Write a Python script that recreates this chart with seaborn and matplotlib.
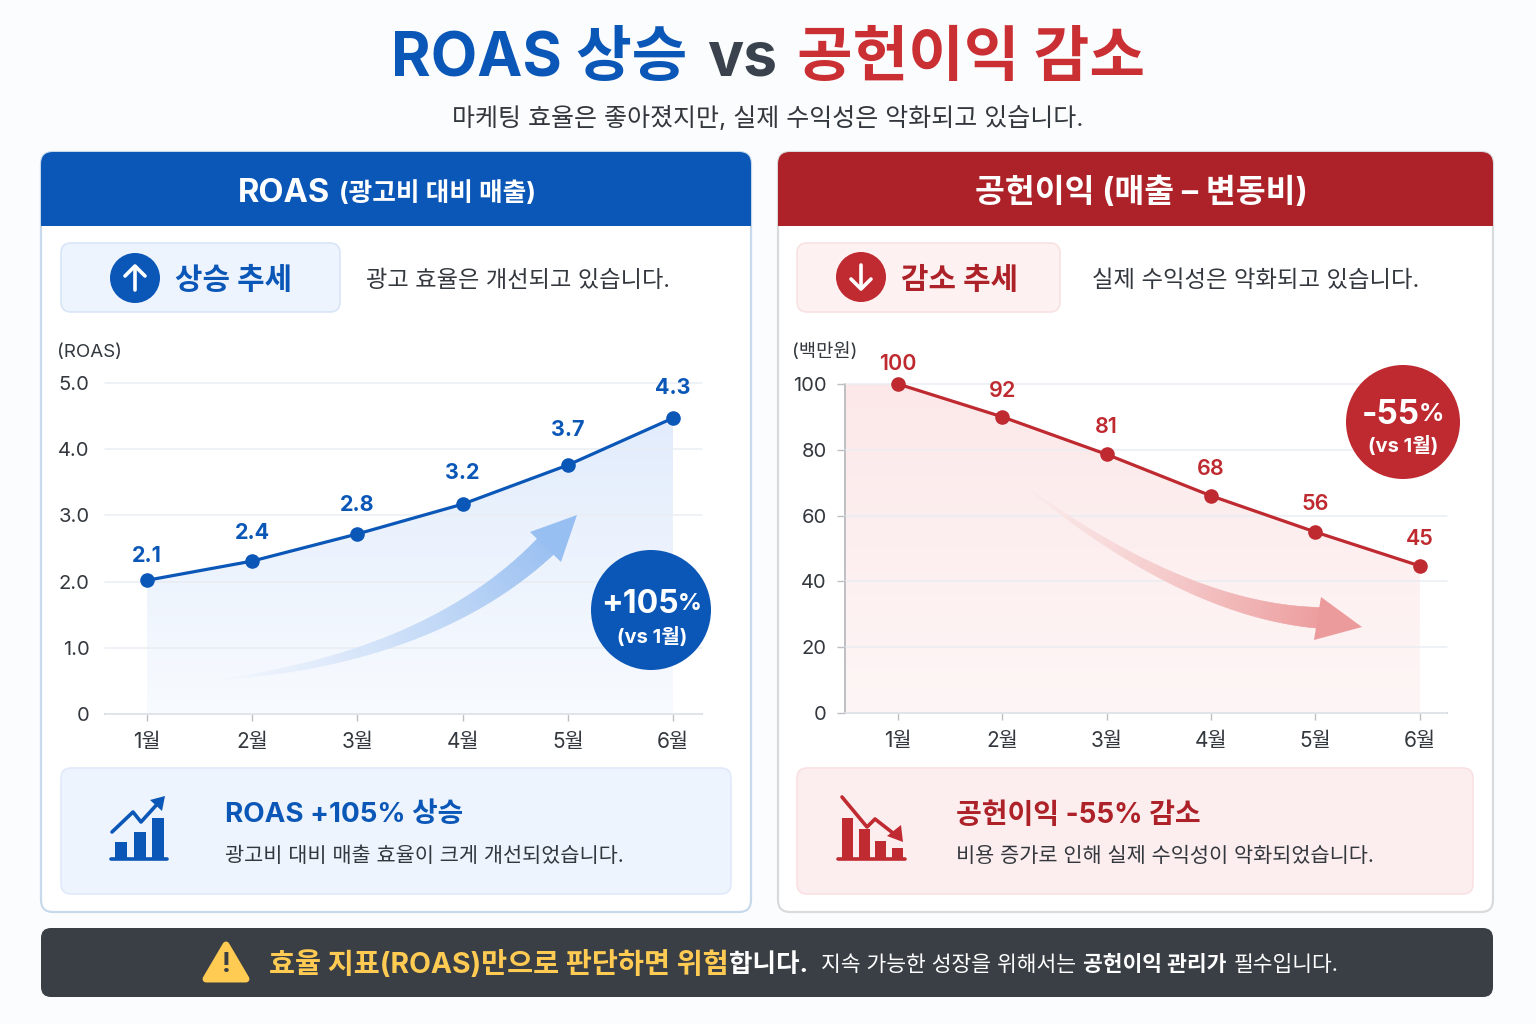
"""ROAS vs contribution margin comparison, two panels on a dashboard style page."""

import numpy as np
import pandas as pd
import matplotlib
matplotlib.use("Agg")
import matplotlib.pyplot as plt
import seaborn as sns
from matplotlib.collections import PolyCollection
from matplotlib.colors import to_rgb
from matplotlib.patches import Circle, FancyBboxPatch, Polygon, Rectangle

months = ["1월", "2월", "3월", "4월", "5월", "6월"]
roas_points = [2.02, 2.31, 2.72, 3.17, 3.76, 4.47]
roas_labels = ["2.1", "2.4", "2.8", "3.2", "3.7", "4.3"]
roas_ticks = [0, 1, 2, 3, 4, 5]
roas_tick_labels = ["0", "1.0", "2.0", "3.0", "4.0", "5.0"]
margin_points = [100, 90, 78.6, 66, 55, 44.7]
margin_labels = ["100", "92", "81", "68", "56", "45"]
margin_ticks = [0, 20, 40, 60, 80, 100]
margin_tick_labels = ["0", "20", "40", "60", "80", "100"]

BLUE = "#0B57B7"
RED = "#AD2228"
RED_LINE = "#BE2A30"
INK = "#33383E"
W, H = 1536, 1024
FONT = ["Inter", "Noto Sans CJK KR", "DejaVu Sans"]

sns.set_theme(style="white")
plt.rcParams["font.family"] = FONT

fig = plt.figure(figsize=(W / 100, H / 100), dpi=100, facecolor="#FBFCFD")


def page_axes(zorder):
    ax = fig.add_axes([0, 0, 1, 1], zorder=zorder)
    ax.set_xlim(0, W)
    ax.set_ylim(H, 0)
    ax.axis("off")
    ax.patch.set_alpha(0)
    return ax


bg = page_axes(0)
fg = page_axes(3)
renderer = fig.canvas.get_renderer()


def box(ax, x0, y0, x1, y1, face, edge="none", r=10, lw=1.2, z=1):
    ax.add_patch(FancyBboxPatch((x0, y0), x1 - x0, y1 - y0,
                                boxstyle=f"round,pad=0,rounding_size={r}",
                                fc=face, ec=edge, lw=lw, zorder=z))


def label(ax, x, y, text, size, color=INK, weight="normal", ha="left"):
    # va=center sits high with the CJK font metrics, so nudge by the font size
    ax.text(x, y + 0.15 * size, text, color=color, fontsize=size, fontweight=weight,
            ha=ha, va="center", zorder=6)


def runs(ax, x, y, parts, align="left"):
    """Write coloured text runs on one line. parts: (text, colour, weight, size, gap)."""
    widths = []
    for text, color, weight, size, gap in parts:
        t = ax.text(0, 0, text, fontsize=size, fontweight=weight)
        widths.append(t.get_window_extent(renderer).width)
        t.remove()
    total = sum(widths) + sum(p[4] for p in parts)
    if align == "center":
        x -= total / 2
    base = max(p[3] for p in parts)
    for (text, color, weight, size, gap), w in zip(parts, widths):
        label(ax, x, y + 0.15 * (base - size), text, size, color, weight)
        x += w + gap


def card(x0, x1, head, border, centre, title_parts):
    box(bg, x0, 152, x1, 912, "white", border, r=12, lw=1.6)
    box(bg, x0, 152, x1, 226, head, r=12, z=2)
    bg.add_patch(Rectangle((x0, 180), x1 - x0, 46, fc=head, ec="none", zorder=2))
    runs(bg, centre, 190, title_parts, "center")


def curved_arrow(p0, c, p1, width, head, start_col, end_col):
    t = np.linspace(0, 1, 90)[:, None]
    p0, c, p1 = np.array(p0), np.array(c), np.array(p1)
    pts = (1 - t) ** 2 * p0 + 2 * t * (1 - t) * c + t ** 2 * p1
    d = np.gradient(pts, axis=0)
    n = np.c_[-d[:, 1], d[:, 0]] / np.hypot(d[:, 0], d[:, 1])[:, None]
    half = (width / 2) * (t ** 0.8)
    upper, lower = pts + n * half, pts - n * half
    a, b = np.array(to_rgb(start_col)), np.array(to_rgb(end_col))
    polys, cols = [], []
    for i in range(len(pts) - 1):
        polys.append([upper[i], upper[i + 1], lower[i + 1], lower[i]])
        cols.append(a + (b - a) * t[i, 0] ** 1.1)
    fg.add_collection(PolyCollection(polys, facecolors=cols, edgecolors=cols, lw=0.4, zorder=2))
    fg.add_patch(Polygon(head, fc=end_col, ec="none", zorder=2))


def panel(rect, values, labels, offsets, ticks, tick_labels, ymax, xlim, color, fill_top, fill_bot,
          left_spine, extend_fill):
    x0, y0, x1, y1 = rect
    ax = fig.add_axes([x0 / W, 1 - y1 / H, (x1 - x0) / W, (y1 - y0) / H], zorder=1)
    ax.patch.set_alpha(0)
    df = pd.DataFrame({"pos": np.arange(len(months)), "value": values})

    fx, fy = df["pos"].to_numpy(dtype=float), df["value"].to_numpy(dtype=float)
    if extend_fill:
        fx, fy = np.r_[xlim[0], fx], np.r_[fy[0], fy]
    clip = ax.fill_between(fx, fy, 0, fc="none", ec="none")
    top, bot = np.array(to_rgb(fill_top)), np.array(to_rgb(fill_bot))
    grad = np.linspace(top, bot, 256)[:, None, :]
    im = ax.imshow(grad, extent=(fx[0], fx[-1], 0, max(fy)), aspect="auto", zorder=1)
    im.set_clip_path(clip.get_paths()[0], ax.transData)

    ax.set_xlim(*xlim)
    ax.set_ylim(0, ymax)
    ax.set_yticks(ticks, tick_labels)
    ax.set_xticks(df["pos"], months)
    ax.grid(axis="y", color="#E9EDF2", lw=1.1, zorder=2)
    ax.set_axisbelow(False)
    for gl in ax.get_ygridlines():
        gl.set_zorder(2)
        gl.set_clip_on(False)

    sns.lineplot(data=df, x="pos", y="value", ax=ax, color=color, lw=2.3, marker="o", ms=10.5,
                 mew=0, zorder=4, clip_on=False)
    ax.set_xlabel("")
    ax.set_ylabel("")
    for spine in ["top", "right"]:
        ax.spines[spine].set_visible(False)
    ax.spines["left"].set_visible(left_spine)
    ax.spines["left"].set_color("#BDBFC3")
    ax.spines["left"].set_linewidth(1.4)
    ax.spines["bottom"].set_color("#C9CBCF")
    ax.spines["bottom"].set_linewidth(1.4)
    ax.tick_params(axis="x", length=5, width=1, color="#BDBFC3", pad=8, labelsize=15, labelcolor=INK, bottom=True)
    ax.tick_params(axis="y", length=6 if left_spine else 0, width=1, color="#BDBFC3", pad=7 if left_spine else 11,
                   labelsize=14.5, labelcolor=INK, left=left_spine)
    for i, (v, lab, off) in enumerate(zip(values, labels, offsets)):
        ax.annotate(lab, (i, v), xytext=(0, (off - 2) * 0.72), textcoords="offset points", ha="center", va="center",
                    fontsize=15.5, fontweight="bold" if color == BLUE else "semibold", color=color,
                    annotation_clip=False, zorder=5)
    return ax


# title block
runs(bg, 768, 53, [("ROAS 상승", BLUE, "bold", 43.5, 20), ("vs", "#39424D", "bold", 43.5, 20),
                   ("공헌이익 감소", "#C92F33", "bold", 43.5, 0)], "center")
label(bg, 768, 116, "마케팅 효율은 좋아졌지만, 실제 수익성은 악화되고 있습니다.", 18, ha="center")

# cards
card(41, 751, BLUE, "#C9D9EC", 387, [("ROAS", "white", "bold", 23.5, 9), ("(광고비 대비 매출)", "white", "bold", 18.5, 0)])
card(778, 1493, RED, "#D9DADC", 1141, [("공헌이익 (매출 – 변동비)", "white", "bold", 23.4, 0)])

# trend pills
box(bg, 61, 243, 340, 312, "#EEF4FD", "#D8E5F8", r=10)
box(bg, 797, 243, 1060, 312, "#FDF1F1", "#F8E2E2", r=10)
bg.add_patch(Circle((135, 278), 25, fc=BLUE, ec="none", zorder=3))
bg.add_patch(Circle((861, 277), 25, fc="#C02B31", ec="none", zorder=3))
bg.plot([135, 135], [290, 267], color="white", lw=2.6, solid_capstyle="round", zorder=4)
bg.plot([125, 135, 145], [276, 266, 276], color="white", lw=2.6, solid_capstyle="round", zorder=4)
bg.plot([861, 861], [265, 288], color="white", lw=2.6, solid_capstyle="round", zorder=4)
bg.plot([851, 861, 871], [279, 289, 279], color="white", lw=2.6, solid_capstyle="round", zorder=4)
label(bg, 234, 278, "상승 추세", 21.5, BLUE, "bold", "center")
label(bg, 960, 278, "감소 추세", 21.5, RED, "bold", "center")
label(bg, 366, 278, "광고 효율은 개선되고 있습니다.", 16.7)
label(bg, 1092, 278, "실제 수익성은 악화되고 있습니다.", 16.8)
label(bg, 57, 350, "(ROAS)", 13.5)
label(bg, 792, 350, "(백만원)", 13.5)

# charts
panel((105, 383, 702, 714), roas_points, roas_labels, [26, 30, 31, 33, 37, 32], roas_ticks, roas_tick_labels,
      5, (-0.4, 5.276), BLUE, "#E2ECFC", "#F8FBFF", False, False)
panel((845, 384, 1447, 713), margin_points, margin_labels, [22, 28, 29, 29, 30, 29], margin_ticks,
      margin_tick_labels, 100, (-0.508, 5.26), RED_LINE, "#FCE8E9", "#FEF6F6", True, True)

# trend arrows
curved_arrow((225, 679), (440, 655), (552, 540), 23, [(530, 532), (577, 515), (561, 562)], "#F2F6FD", "#98BFF1")
curved_arrow((1030, 490), (1190, 612), (1322, 618), 21, [(1321, 597), (1362, 627), (1314, 640)], "#FBEAEA", "#EC9B9C")

# change badges
fg.add_patch(Circle((651, 610), 60, fc=BLUE, ec="none", zorder=4))
runs(fg, 651, 601, [("+105", "white", "bold", 23, -1), ("%", "white", "bold", 17, 0)], "center")
label(fg, 652, 635, "(vs 1월)", 14.5, "white", "bold", "center")
fg.add_patch(Circle((1403, 422), 57, fc="#BE2A30", ec="none", zorder=4))
runs(fg, 1403, 411, [("-55", "white", "bold", 24, -1), ("%", "white", "bold", 18, 0)], "center")
label(fg, 1403, 444, "(vs 1월)", 14.5, "white", "bold", "center")

# summary boxes
box(bg, 61, 768, 731, 894, "#EEF4FD", "#E0EAF9", r=10)
box(bg, 797, 768, 1473, 894, "#FCEDEE", "#F9E1E3", r=10)
label(bg, 225, 812, "ROAS +105% 상승", 20, BLUE, "bold")
label(bg, 225, 854, "광고비 대비 매출 효율이 크게 개선되었습니다.", 15)
label(bg, 956, 812, "공헌이익 -55% 감소", 20.2, RED, "bold")
label(bg, 956, 854, "비용 증가로 인해 실제 수익성이 악화되었습니다.", 15)

# small bar icons
for x0, x1, top in [(115, 127, 842), (134, 146, 832), (152, 164, 818)]:
    bg.add_patch(Rectangle((x0, top), x1 - x0, 858 - top, fc=BLUE, ec="none", zorder=5))
bg.plot([111, 167], [858.5, 858.5], color=BLUE, lw=2.6, zorder=5)
bg.plot([112, 133, 141, 160], [832, 812, 822, 801], color=BLUE, lw=2.6, zorder=5)
bg.add_patch(Polygon([(165, 796), (150, 800), (162, 811)], fc=BLUE, ec="none", zorder=5))
for x0, x1, top in [(842, 853, 818), (859, 870, 829), (875, 886, 841), (892, 903, 848)]:
    bg.add_patch(Rectangle((x0, top), x1 - x0, 858 - top, fc="#C02B31", ec="none", zorder=5))
bg.plot([838, 905], [858.5, 858.5], color="#C02B31", lw=2.6, zorder=5)
bg.plot([842, 867, 875, 898], [797, 827, 819, 837], color="#C02B31", lw=2.6, zorder=5)
bg.add_patch(Polygon([(903, 842), (887, 836), (901, 825)], fc="#C02B31", ec="none", zorder=5))

# footer band
box(bg, 41, 928, 1493, 997, "#3A3F45", r=10)
bg.add_patch(Polygon([(226, 945), (246, 979), (206, 979)], fc="#FFCB52", ec="#FFCB52", lw=5, joinstyle="round", zorder=5))
label(bg, 226, 962, "!", 19, "#3A3F45", "bold", "center")
runs(bg, 269, 962, [("효율 지표(ROAS)만으로 판단하면 위험", "#FFCB52", "bold", 20.4, 0), ("합니다.", "white", "bold", 18.4, 0)])
runs(bg, 821, 963, [("지속 가능한 성장을 위해서는", "white", "normal", 15.5, 7), ("공헌이익 관리가", "white", "bold", 15.5, 7),
                    ("필수입니다.", "white", "normal", 15.5, 0)])

fig.savefig("out.png", dpi=100, facecolor=fig.get_facecolor())
